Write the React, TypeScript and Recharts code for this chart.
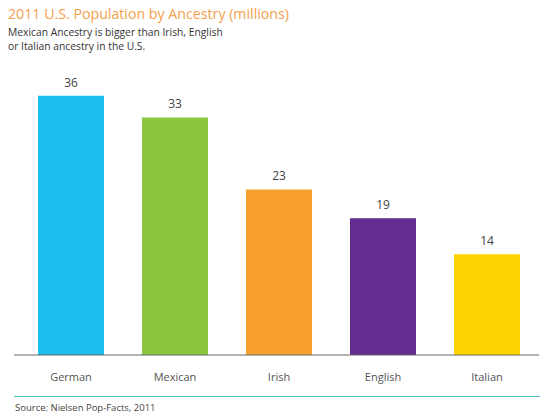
import React from 'react';
import { BarChart, Bar, XAxis, YAxis, Cell, LabelList } from 'recharts';

const ancestries = ['German', 'Mexican', 'Irish', 'English', 'Italian'];
const millions = [36, 33, 23, 19, 14];
const barColors = ['#1bbfee', '#8cc63f', '#f7a02d', '#662d91', '#ffd400'];

const data = ancestries.map((name, i) => ({ name, value: millions[i] }));

const font = '"Open Sans", "Noto Sans", sans-serif';

const App: React.FC = () => {
  return (
    <div
      style={{
        position: 'absolute',
        left: 0,
        top: 0,
        width: 540,
        height: 415,
        background: '#fff',
        fontFamily: font,
        overflow: 'hidden',
      }}
    >
      <div style={{ position: 'absolute', left: 8, top: 4, fontSize: 14.2, color: '#f4a04b', whiteSpace: 'nowrap' }}>
        2011 U.S. Population by Ancestry (millions)
      </div>
      <div style={{ position: 'absolute', left: 8, top: 25, fontSize: 10.3, lineHeight: '14px', color: '#333' }}>
        Mexican Ancestry is bigger than Irish, English
        <br />
        or Italian ancestry in the U.S.
      </div>
      <div style={{ position: 'absolute', left: 0, top: 0 }}>
        <BarChart width={540} height={385} data={data} margin={{ top: 67, right: 1, bottom: 0, left: 14 }}>
          <YAxis hide domain={[0, 40]} />
          <XAxis
            dataKey="name"
            height={30}
            padding={{ left: 5, right: 0 }}
            tickLine={false}
            axisLine={{ stroke: '#666', strokeWidth: 1 }}
            tick={{ fill: '#555', fontSize: 11, fontFamily: font }}
            tickMargin={12}
          />
          <Bar dataKey="value" barSize={66} isAnimationActive={false}>
            {data.map((d, i) => (
              <Cell key={d.name} fill={barColors[i]} />
            ))}
            <LabelList dataKey="value" position="top" offset={9} fill="#444" fontSize={12} fontFamily={font} />
          </Bar>
        </BarChart>
      </div>
      <div style={{ position: 'absolute', left: 14, top: 396, width: 526, borderTop: '1px solid #4cc2c6' }} />
      <div style={{ position: 'absolute', left: 15, top: 401, fontSize: 9.5, color: '#444', whiteSpace: 'nowrap' }}>
        Source: Nielsen Pop-Facts, 2011
      </div>
    </div>
  );
};

export default App;
